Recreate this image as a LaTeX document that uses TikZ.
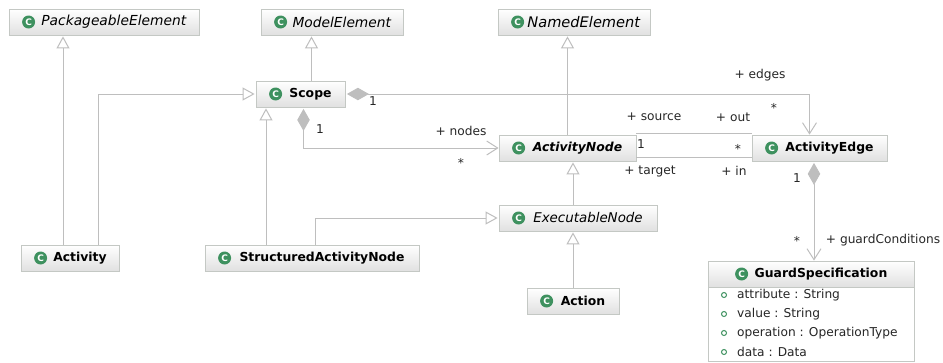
\documentclass[tikz,border=0pt]{standalone}
\usepackage{fontspec}
\setmainfont{DejaVu Sans}
\usepackage{tikz}
\usetikzlibrary{arrows.meta, shadows}
\definecolor{linegray}{RGB}{190,190,190}
\definecolor{boxgray}{RGB}{196,200,196}
\definecolor{icongreen}{RGB}{62,145,95}
\tikzset{
    cls/.style={draw=boxgray, line width=0.8pt, top color=white, bottom color=black!12, minimum height=26pt, inner sep=0pt, font=\fontsize{12.4}{14}\selectfont, general shadow={shadow xshift=1.2pt, shadow yshift=-1.2pt, fill=black!22}},
    cicon/.style={circle, fill=icongreen, text=white, minimum size=13pt, inner sep=0pt, font=\fontsize{9}{9}\selectfont\bfseries},
    lbl/.style={inner sep=0pt, font=\fontsize{12.2}{14}\selectfont, text=black!85},
    conn/.style={draw=linegray, line width=1pt},
    gen/.style={conn, -{Triangle[open, length=12pt, width=13pt, fill=white]}, shorten >=1pt},
    comp/.style={conn, {Diamond[length=22pt, width=12.5pt, fill=linegray]}-{Straight Barb[length=11pt, width=14pt, line width=1pt]}, shorten <=1.5pt},
    attr/.style={inner sep=0pt, anchor=west, font=\fontsize{12.2}{14}\selectfont, text=black!85},
    bullet/.style={circle, draw=icongreen, fill=white, line width=1pt, minimum size=5pt, inner sep=0pt}
}
\begin{document}
\begin{tikzpicture}[x=1pt, y=-1pt]
    \useasboundingbox (0, 0) rectangle (943, 362);
    \node[cls, minimum width=190pt] (pe) at (104, 22) {\hspace{20pt}\fontsize{13.8}{14}\selectfont\textit{PackageableElement}};
    \node[cls, minimum width=142pt] (me) at (332, 22) {\hspace{20pt}\fontsize{13.8}{14}\selectfont\textit{ModelElement}};
    \node[cls, minimum width=152pt] (ne) at (574, 22) {\hspace{20pt}\fontsize{14.6}{14}\selectfont\textit{NamedElement}};
    \node[cls, minimum width=89pt] (scope) at (300.5, 94) {\hspace{20pt}\textbf{Scope}};
    \node[cls, minimum width=137pt] (an) at (567.5, 148) {\hspace{20pt}\textbf{\textit{ActivityNode}}};
    \node[cls, minimum width=135pt] (ae) at (819.5, 148) {\hspace{20pt}\textbf{ActivityEdge}};
    \node[cls, minimum width=158pt] (en) at (578, 218) {\hspace{20pt}\fontsize{13.4}{14}\selectfont\textit{ExecutableNode}};
    \node[cls, minimum width=98pt] (act) at (70, 258) {\hspace{20pt}\textbf{Activity}};
    \node[cls, minimum width=214pt] (san) at (312, 258) {\hspace{20pt}\textbf{StructuredActivityNode}};
    \node[cls, minimum width=92pt] (action) at (573, 301) {\hspace{20pt}\textbf{Action}};
    \node[cls, minimum width=206pt] (gs) at (811, 274) {\hspace{20pt}\textbf{GuardSpecification}};
    \node[draw=boxgray, line width=0.8pt, fill=white, minimum width=206pt, minimum height=74pt, inner sep=0pt, general shadow={shadow xshift=1.2pt, shadow yshift=-1.2pt, fill=black!22}] (gsbody) at (811, 324) {};
    \foreach \x in {pe, me, ne, scope, an, ae, en, act, san, action} {
        \node[cicon] (\x icon) at ([xshift=20pt]\x.west) {C};
    }
    \node[cicon] (gsicon) at ([xshift=34pt]gs.west) {C};
    \foreach \t/\y [count=\i] in {attribute : String/295, value : String/314, operation : OperationType/333, data : Data/352} {
        \node[bullet] (dot\i) at (724, \y) {};
        \node[attr] (attr\i) at (737, \y) {\t};
    }
    \draw[gen] ([xshift=-7pt]act.north) -- ([xshift=-7pt]act.north |- pe.south);
    \draw[gen] ([xshift=11pt]scope.north) -- ([xshift=11pt]scope.north |- me.south);
    \draw[gen] (an.north) -- (an.north |- ne.south);
    \draw[gen] ([xshift=28pt]act.north) |- (scope.west);
    \draw[gen] ([xshift=-46pt]san.north) -- ([xshift=-46pt]san.north |- scope.south);
    \draw[gen] ([xshift=3pt]san.north) |- (en.west);
    \draw[gen] ([xshift=-5pt]en.north) -- ([xshift=-5pt]en.north |- an.south);
    \draw[gen] (action.north) -- (action.north |- en.south);
    \draw[comp] ([xshift=3pt]scope.south) |- (an.west);
    \draw[comp] (scope.east) -| ([xshift=-10pt]ae.north);
    \draw[comp] ([xshift=-5.5pt]ae.south) -- ([xshift=-5.5pt]ae.south |- gs.north);
    \draw[conn] ([yshift=1pt]an.north east) -- ([yshift=1pt]ae.north west);
    \draw[conn] ([yshift=4pt]an.south east) -- ([yshift=4pt]ae.south west);
    \node[lbl] (edgesrole) at (760, 75) {+ edges};
    \node[lbl] (edgesmany) at (774, 108) {*};
    \node[lbl] (scopeone) at (373, 101) {1};
    \node[lbl] (nodesone) at (320, 129) {1};
    \node[lbl] (nodesrole) at (461, 131) {+ nodes};
    \node[lbl] (nodesmany) at (461, 163) {*};
    \node[lbl] (sourcerole) at (654, 117) {+ source};
    \node[lbl] (outrole) at (733, 117) {+ out};
    \node[lbl] (sourceone) at (641, 144) {1};
    \node[lbl] (outmany) at (738, 149) {*};
    \node[lbl] (targetrole) at (650, 171) {+ target};
    \node[lbl] (inrole) at (734, 171) {+ in};
    \node[lbl] (edgeone) at (797, 178) {1};
    \node[lbl] (guardmany) at (797, 241) {*};
    \node[lbl] (guardrole) at (883, 240) {+ guardConditions};
\end{tikzpicture}
\end{document}
